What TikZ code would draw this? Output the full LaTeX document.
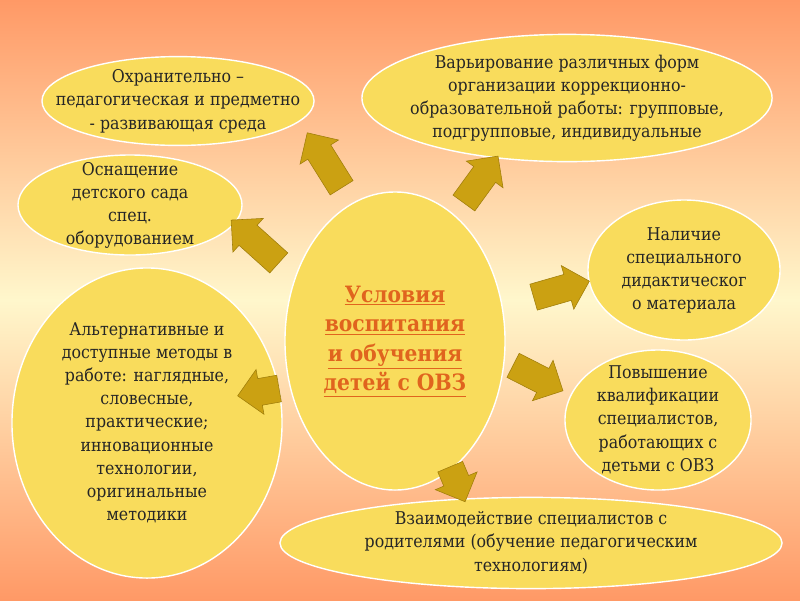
\documentclass[tikz,border=0pt]{standalone}
\usepackage{fontspec}
\setmainfont{DejaVu Serif Condensed}
\newfontfamily\ovalfont{DejaVu Serif Condensed}
\usetikzlibrary{shapes.geometric,shapes.arrows}
\definecolor{bgorange}{RGB}{255,153,102}
\definecolor{bgpale}{RGB}{255,247,204}
\definecolor{ovalyellow}{RGB}{249,220,92}
\definecolor{arrowgold}{RGB}{203,161,18}
\definecolor{arrowedge}{RGB}{160,126,10}
\definecolor{titleorange}{RGB}{224,100,30}
\definecolor{textdark}{RGB}{38,38,38}
\newcommand{\ovaltext}[1]{\makebox[0pt]{\smash{\raisebox{-0.25em}{\begin{tabular}{@{}c@{}}#1\end{tabular}}}}}

\begin{document}
\begin{tikzpicture}[x=0.025cm,y=-0.025cm,
    oval/.style={ellipse,draw=white,line width=1pt,fill=ovalyellow,inner sep=0pt,
      text=textdark,font=\ovalfont\fontsize{12.5}{16.5}\selectfont},
    blockarrow/.style={single arrow,draw=arrowedge,fill=arrowgold,line width=0.4pt,inner xsep=0pt,
      inner ysep=0.33cm,minimum width=1.12cm,single arrow head extend=0.23cm}
  ]
  \shade[top color=bgorange,bottom color=bgpale] (0,0) rectangle (800,300);
  \shade[top color=bgpale,bottom color=bgorange] (0,300) rectangle (800,600);
  \useasboundingbox (0,0) rectangle (800,600);

  \node[oval,minimum width=6.8cm,minimum height=2.22cm] (sreda) at (178,101)
    {\ovaltext{Охранительно –\\педагогическая и предметно\\- развивающая среда}};
  \node[oval,minimum width=10.25cm,minimum height=3.18cm] (formy) at (567,98)
    {\ovaltext{Варьирование различных форм\\организации коррекционно-\\образовательной работы: групповые,\\подгрупповые, индивидуальные}};
  \node[oval,minimum width=5.6cm,minimum height=2.5cm] (osnash) at (130,205)
    {\ovaltext{Оснащение\\детского сада\\спец.\\оборудованием}};
  \node[oval,minimum width=4.8cm,minimum height=3.5cm] (material) at (684,270)
    {\ovaltext{Наличие\\специального\\дидактическог\\о материала}};
  \node[oval,minimum width=4.65cm,minimum height=3.5cm] (kvalif) at (658,420)
    {\ovaltext{Повышение\\квалификации\\специалистов,\\работающих с\\детьми с ОВЗ}};
  \node[oval,minimum width=6.75cm,minimum height=7.75cm] (metody) at (147,423)
    {\ovaltext{Альтернативные и\\доступные методы в\\работе: наглядные,\\словесные,\\практические;\\инновационные\\технологии,\\оригинальные\\методики}};
  \node[oval,minimum width=12.55cm,minimum height=2.28cm] (roditeli) at (531,543)
    {\ovaltext{Взаимодействие специалистов с\\родителями (обучение педагогическим\\технологиям)}};
  \node[oval,minimum width=5.5cm,minimum height=7.45cm,text=titleorange,
    font=\ovalfont\fontsize{16}{21}\selectfont\bfseries] (usloviya) at (395,341)
    {\ovaltext{\underline{Условия}\\\underline{воспитания}\\\underline{и обучения}\\\underline{детей с ОВЗ}}};

  \foreach \n/\x/\y/\a/\l in {ar1/328/166/122/1.62cm,ar2/477/185/54/1.45cm,ar3/260/246/138/1.6cm,
      ar4/555/291/16/1.45cm,ar5/532/375/-27/1.4cm,ar6/265/391/190/1.05cm,ar7/455/478/-67/0.95cm}
    \node[blockarrow,rotate=\a,minimum height=\l] (\n) at (\x,\y) {};
\end{tikzpicture}
\end{document}
